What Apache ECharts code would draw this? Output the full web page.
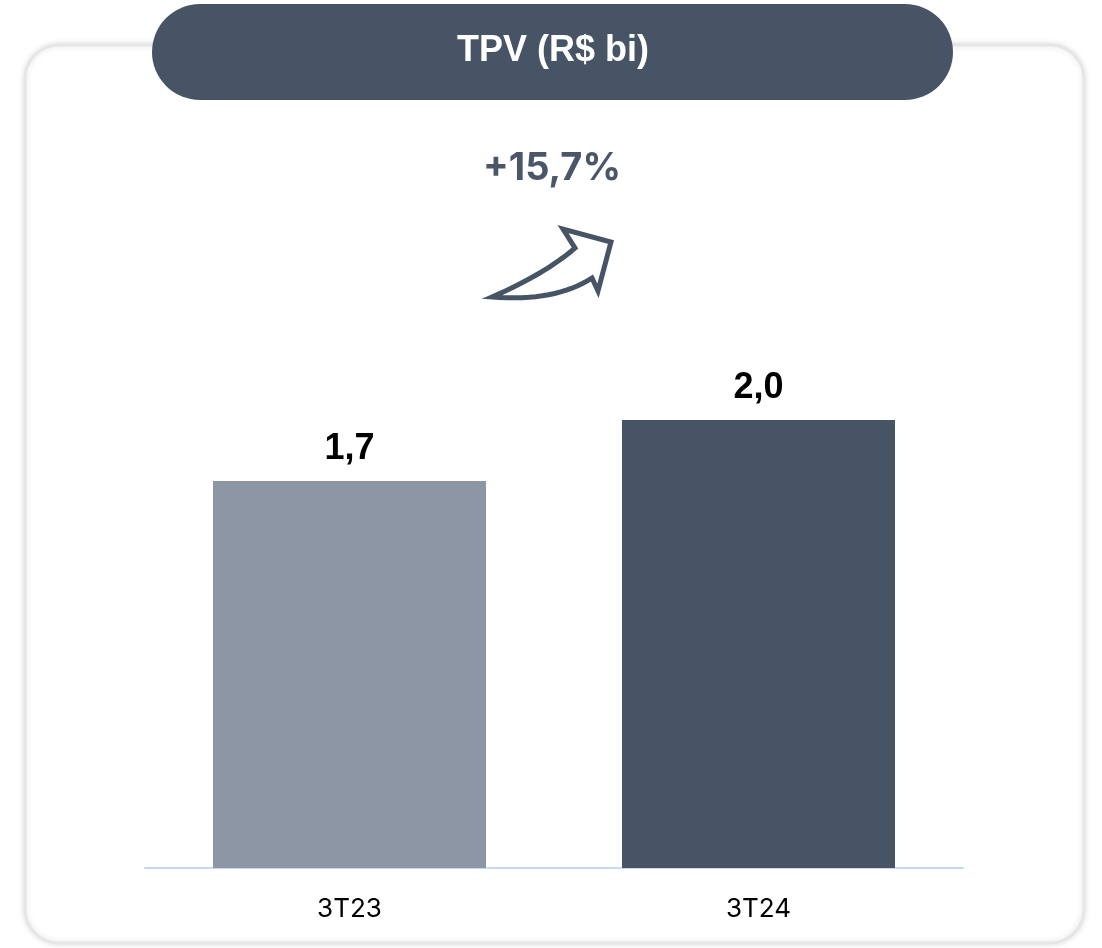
<!DOCTYPE html>
<html>
<head>
<meta charset="utf-8">
<script src="https://cdn.jsdelivr.net/npm/echarts@6/dist/echarts.min.js"></script>
<style>
  html, body { margin: 0; padding: 0; background: #ffffff; }
  #chart { width: 1102px; height: 948px; }
</style>
</head>
<body>
<div id="chart"></div>
<script>
const categories = ['3T23', '3T24']
const tpvValues = [1.728, 2.0]
const barColors = ['#8c96a4', '#465466']
const titleText = 'TPV (R$ bi)'
const growthText = '+15,7%'

// quadratic curve sampled into points (for the decorative arrow)
function quad(p0, c, p1, n) {
  const pts = []
  for (let i = 0; i <= n; i++) {
    const t = i / n
    const a = (1 - t) * (1 - t), b = 2 * (1 - t) * t, d = t * t
    pts.push([a * p0[0] + b * c[0] + d * p1[0], a * p0[1] + b * c[1] + d * p1[1]])
  }
  return pts
}

const arrowPts = []
  .concat(quad([492, 297], [545, 274], [575, 248], 16))
  .concat([[563, 229], [611, 242], [598, 291]])
  .concat(quad([592, 278], [555, 302], [492, 297], 16))

const chart = echarts.init(document.getElementById('chart'))

const option = {
  animation: false,
  grid: { left: 145, right: 139, top: 196, bottom: 80 },
  xAxis: {
    type: 'category',
    data: categories,
    axisLine: { lineStyle: { color: '#c6daf2', width: 2 } },
    axisTick: { show: false },
    axisLabel: {
      margin: 28,
      fontFamily: 'Inter',
      fontSize: 26,
      color: '#000000',
    },
  },
  yAxis: {
    type: 'value',
    min: 0,
    max: 3,
    show: false,
    splitLine: { show: false },
  },
  series: [
    {
      type: 'bar',
      barWidth: 273,
      data: tpvValues.map((v, i) => ({ value: v, itemStyle: { color: barColors[i] } })),
      label: {
        show: true,
        position: 'top',
        distance: 14,
        fontFamily: 'Liberation Sans',
        fontWeight: 'bold',
        fontSize: 36,
        color: '#000000',
        formatter: (p) => p.value.toFixed(1).replace('.', ','),
      },
    },
  ],
  graphic: [
    // card
    {
      type: 'rect',
      z: -10,
      shape: { x: 25, y: 45, width: 1059, height: 898, r: 34 },
      style: {
        fill: '#ffffff',
        stroke: '#e6e6e6',
        lineWidth: 3,
        shadowBlur: 6,
        shadowColor: 'rgba(0,0,0,0.12)',
      },
    },
    // header pill
    {
      type: 'rect',
      z: 10,
      shape: { x: 152, y: 4, width: 801, height: 96, r: 48 },
      style: { fill: '#465466' },
    },
    {
      type: 'text',
      z: 11,
      x: 553,
      y: 51,
      style: {
        text: titleText,
        fill: '#ffffff',
        fontFamily: 'Liberation Sans',
        fontWeight: 'bold',
        fontSize: 36,
        align: 'center',
        verticalAlign: 'middle',
      },
    },
    {
      type: 'text',
      z: 11,
      x: 552,
      y: 169,
      style: {
        text: growthText,
        fill: '#4b5768',
        fontFamily: 'Inter',
        fontWeight: 'bold',
        fontSize: 38,
        align: 'center',
        verticalAlign: 'middle',
      },
    },
    // arrow
    {
      type: 'polygon',
      z: 11,
      shape: { points: arrowPts },
      style: { fill: '#ffffff', stroke: '#465466', lineWidth: 5, lineJoin: 'miter' },
    },
  ],
}

chart.setOption(option)
</script>
</body>
</html>
